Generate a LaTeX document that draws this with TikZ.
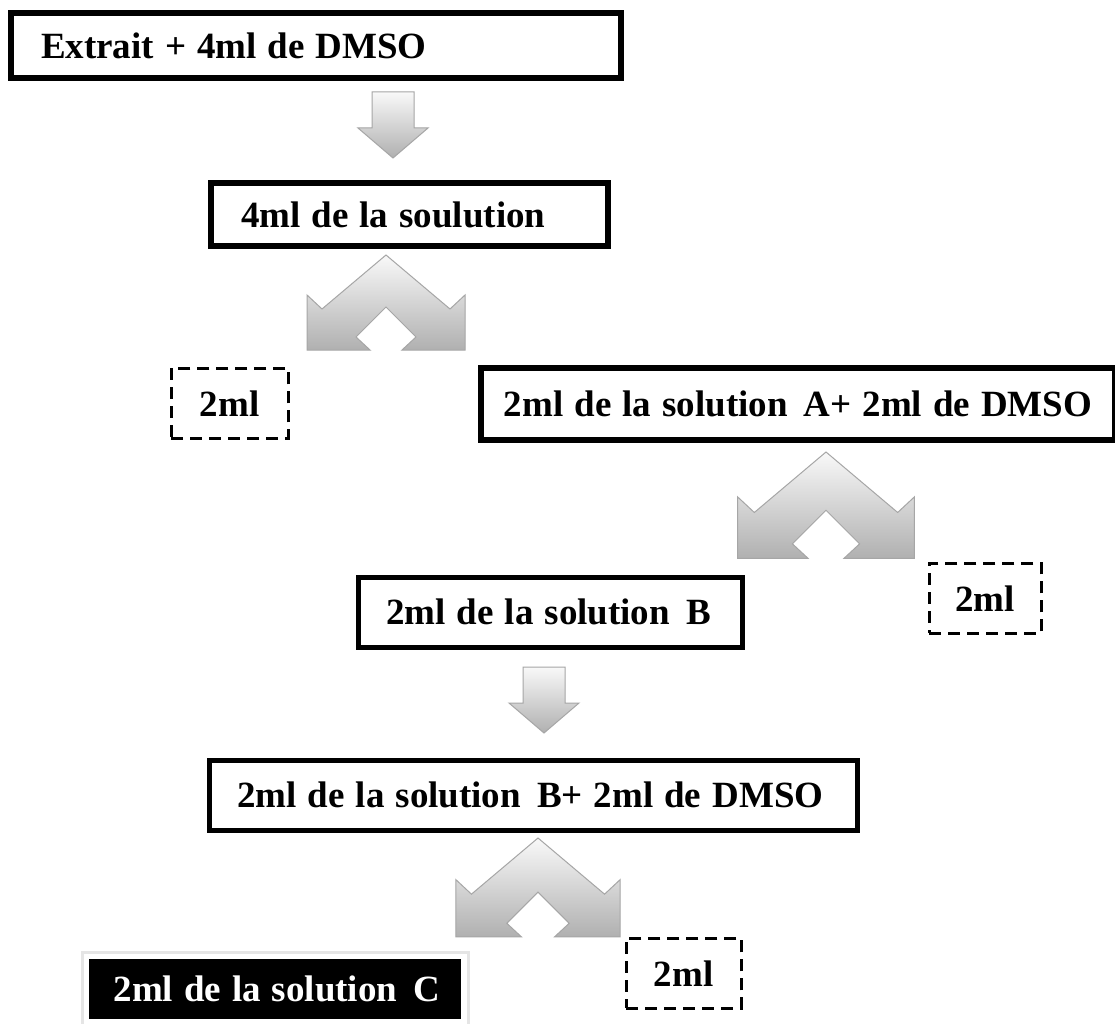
\documentclass[tikz,border=0pt]{standalone}
\usepackage{fontspec}
\setmainfont{Liberation Serif}
\usetikzlibrary{calc}

\begin{document}
\begin{tikzpicture}[x=1pt, y=-1pt,
    boite/.style={draw, line width=5, inner xsep=30, inner ysep=0, align=left,
        anchor=north west, font=\bfseries\fontsize{37}{40}\selectfont,
        execute at begin node={\spaceskip=11pt\relax}},
    pointille/.style={draw, dashed, dash pattern=on 12 off 7, line width=2.5,
        inner sep=0, anchor=north west, font=\bfseries\fontsize{37}{40}\selectfont},
    fleche/.style={draw=gray!70, line width=1, top color=gray!5, bottom color=gray!62}]
    % 1. Cadre de la page
    \fill[white] (0,0) rectangle (1115,1024);
    \useasboundingbox (0,0) rectangle (1115,1024);

    % 2. Boites principales
    \node[boite, line width=6, text width=550, minimum height=65] (extrait) at (8,10)
        {\mbox{Extrait + 4ml de DMSO}};
    \node[boite, line width=6, text width=337, minimum height=63] (sol) at (208,180)
        {\mbox{4ml de la soulution}};
    \node[boite, line width=6, inner xsep=12, text width=610, align=center, minimum height=72] (solA) at (478,365)
        {\mbox{2ml de la solution\hspace{5pt} A+ 2ml de DMSO}};
    \node[boite, line width=4.5, inner xsep=28, text width=328, minimum height=70] (solB) at (356,575)
        {\mbox{2ml de la solution\hspace{5pt} B}};
    \node[boite, line width=4.5, inner xsep=28, text width=592, minimum height=70] (solBB) at (207,758)
        {\mbox{2ml de la solution\hspace{5pt} B+ 2ml de DMSO}};

    % Boite noire finale (solution C) avec son cadre gris
    \node[boite, draw=black, line width=1, fill=black, text=white, inner xsep=24,
        text width=323, minimum height=59] (solC) at (89,959) {\mbox{2ml de la solution\hspace{5pt} C}};
    \draw[gray!20, line width=3] ($(solC.north west)+(-7,-7)$) rectangle ($(solC.south east)+(7,7)$);

    % 3. Boites en pointilles (2ml retires)
    \node[pointille, minimum width=117, minimum height=70] (retA) at (170,367) {2ml};
    \node[pointille, minimum width=112, minimum height=70] (retB) at (928,562) {2ml};
    \node[pointille, minimum width=115, minimum height=70] (retC) at (625,937) {2ml};

    % 4. Fleches simples vers le bas
    \foreach \cx/\cy in {393/92, 544/667}
        \draw[fleche, shift={(\cx,\cy)}]
            (-21,0) -- (21,0) -- (21,36) -- (35,36) -- (0,66) -- (-35,36) -- (-21,36) -- cycle;

    % 5. Fleches doubles (partage en deux)
    \foreach \cx/\cy/\s in {386/255/1, 826/452/1.12, 538/838/1.04}
        \draw[fleche, shift={(\cx,\cy)}, scale=\s]
            (0,0) -- (-64,54) -- (-79,40) -- (-79,95) -- (-16,95) -- (-30,82) -- (0,52)
            -- (30,82) -- (16,95) -- (79,95) -- (79,40) -- (64,54) -- cycle;

\end{tikzpicture}
\end{document}
